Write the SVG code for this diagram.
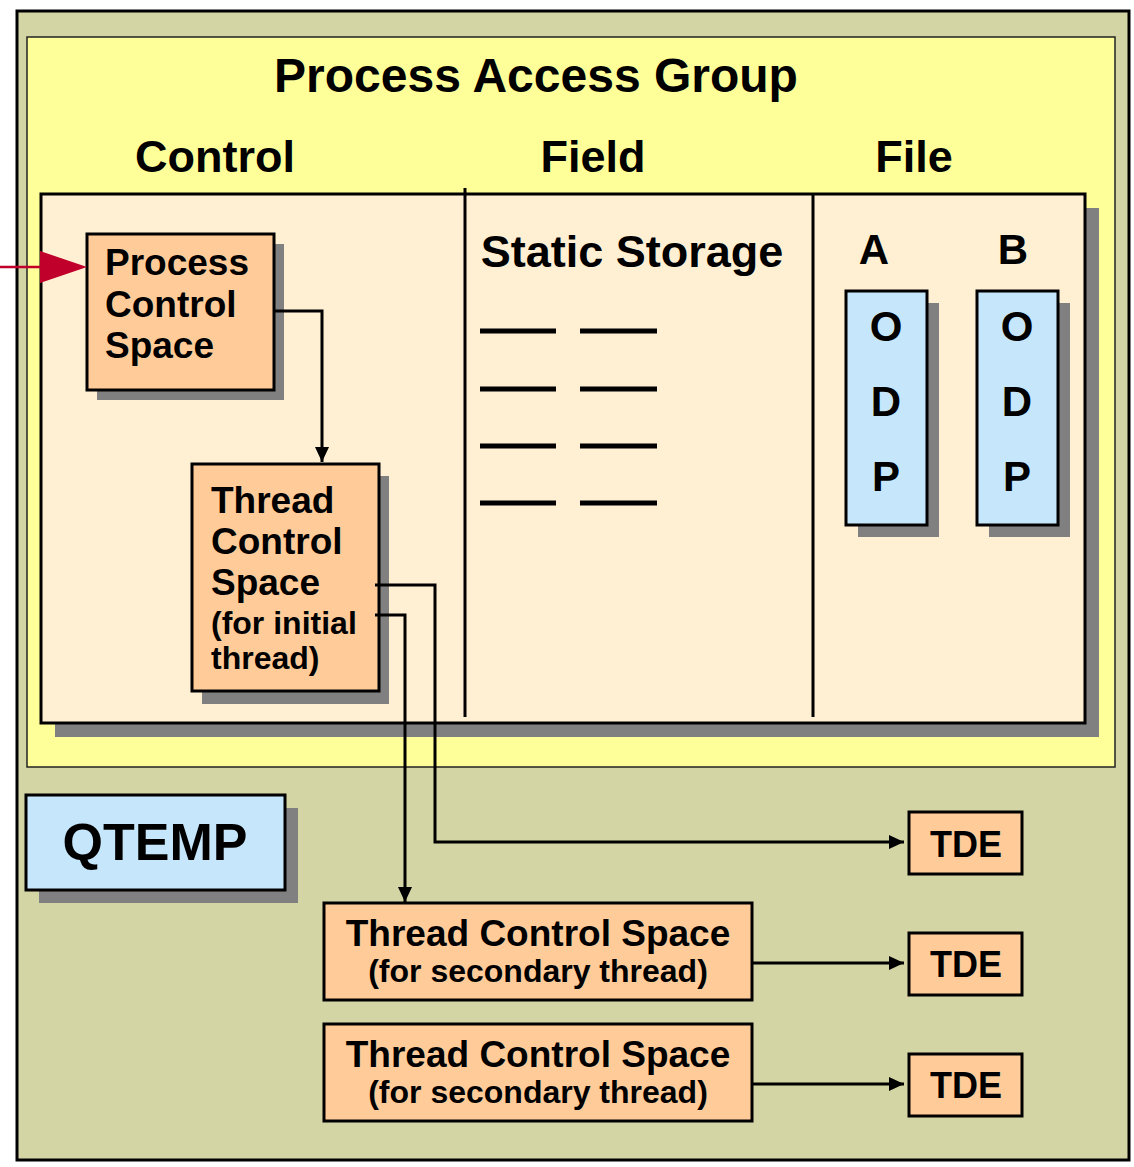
<svg xmlns="http://www.w3.org/2000/svg" width="1134" height="1167" viewBox="0 0 1134 1167">
<style>
text{font-family:"Liberation Sans",Arial,sans-serif;font-weight:bold;fill:#000}
.box{stroke:#000;stroke-width:3}
.sh{fill:#808080}
.or{fill:#FFCC99}
.bl{fill:#C6E7FB}
.conn{fill:none;stroke:#000;stroke-width:3}
.mid{text-anchor:middle}
</style>
<defs>
<marker id="ah" markerUnits="userSpaceOnUse" markerWidth="16" markerHeight="14" refX="15" refY="7" orient="auto">
<path d="M0,0 L15,7 L0,14 z" fill="#000"/>
</marker>
</defs>
<rect width="1134" height="1167" fill="#fff"/>
<g id="outer">
<rect x="17" y="11" width="1112" height="1149" fill="#D4D5A5" stroke="#000" stroke-width="3"/>
</g>
<g id="pag">
<rect x="27" y="37" width="1088" height="730" fill="#FFFF99" stroke="#222" stroke-width="1.5"/>
<text x="536" y="92" class="mid" font-size="48">Process Access Group</text>
<text x="215" y="172" class="mid" font-size="45">Control</text>
<text x="593" y="172" class="mid" font-size="45">Field</text>
<text x="914" y="172" class="mid" font-size="45">File</text>
</g>
<g id="storage">
<rect x="55" y="208" width="1044" height="529" class="sh"/>
<rect x="41" y="194" width="1044" height="529" fill="#FFF0D4" class="box"/>
<line x1="465" y1="188" x2="465" y2="717" stroke="#000" stroke-width="3"/>
<line x1="813" y1="194" x2="813" y2="717" stroke="#000" stroke-width="3"/>
<text x="632" y="267" class="mid" font-size="45">Static Storage</text>
<g stroke="#000" stroke-width="5">
<line x1="480" y1="331" x2="556" y2="331"/><line x1="580" y1="331" x2="657" y2="331"/>
<line x1="480" y1="389" x2="556" y2="389"/><line x1="580" y1="389" x2="657" y2="389"/>
<line x1="480" y1="446" x2="556" y2="446"/><line x1="580" y1="446" x2="657" y2="446"/>
<line x1="480" y1="503" x2="556" y2="503"/><line x1="580" y1="503" x2="657" y2="503"/>
</g>
<text x="874" y="264" class="mid" font-size="42">A</text>
<text x="1013" y="264" class="mid" font-size="42">B</text>
</g>
<g id="odpA">
<rect x="858" y="303" width="81" height="234" class="sh"/>
<rect x="846" y="291" width="81" height="234" class="bl box"/>
<text x="886" y="341" class="mid" font-size="42">O</text>
<text x="886" y="416" class="mid" font-size="42">D</text>
<text x="886" y="491" class="mid" font-size="42">P</text>
</g>
<g id="odpB">
<rect x="989" y="303" width="81" height="234" class="sh"/>
<rect x="977" y="291" width="81" height="234" class="bl box"/>
<text x="1017" y="341" class="mid" font-size="42">O</text>
<text x="1017" y="416" class="mid" font-size="42">D</text>
<text x="1017" y="491" class="mid" font-size="42">P</text>
</g>
<g id="pcs">
<rect x="97" y="244" width="187" height="156" class="sh"/>
<rect x="87" y="234" width="187" height="156" class="or box"/>
<text x="105" y="275" font-size="37">Process</text>
<text x="105" y="317" font-size="37">Control</text>
<text x="105" y="358" font-size="37">Space</text>
</g>
<g id="tcs-initial">
<rect x="202" y="476" width="187" height="228" class="sh"/>
<rect x="192" y="464" width="187" height="227" class="or box"/>
<text x="211" y="513" font-size="37">Thread</text>
<text x="211" y="554" font-size="37">Control</text>
<text x="211" y="595" font-size="37">Space</text>
<text x="211" y="634" font-size="32">(for initial</text>
<text x="211" y="669" font-size="32">thread)</text>
</g>
<g id="qtemp">
<rect x="39" y="808" width="259" height="95" class="sh"/>
<rect x="26" y="795" width="259" height="95" class="bl box"/>
<text x="155" y="860" class="mid" font-size="52">QTEMP</text>
</g>
<g id="tcs-secondary-1">
<rect x="324" y="903" width="428" height="97" class="or box"/>
<text x="538" y="946" class="mid" font-size="37">Thread Control Space</text>
<text x="538" y="982" class="mid" font-size="32">(for secondary thread)</text>
</g>
<g id="tcs-secondary-2">
<rect x="324" y="1024" width="428" height="97" class="or box"/>
<text x="538" y="1067" class="mid" font-size="37">Thread Control Space</text>
<text x="538" y="1103" class="mid" font-size="32">(for secondary thread)</text>
</g>
<g id="tde-1">
<rect x="909" y="812" width="113" height="62" class="or box"/>
<text x="966" y="857" class="mid" font-size="36">TDE</text>
</g>
<g id="tde-2">
<rect x="909" y="933" width="113" height="62" class="or box"/>
<text x="966" y="977" class="mid" font-size="36">TDE</text>
</g>
<g id="tde-3">
<rect x="909" y="1054" width="113" height="62" class="or box"/>
<text x="966" y="1098" class="mid" font-size="36">TDE</text>
</g>
<g id="connectors">
<line x1="0" y1="267" x2="42" y2="267" stroke="#C0002B" stroke-width="2.5"/>
<polygon points="40,251 87,267 40,283" fill="#C0002B"/>
<path d="M274,311 H322 V462" class="conn" marker-end="url(#ah)"/>
<path d="M375,585 H435 V842 H904" class="conn" marker-end="url(#ah)"/>
<path d="M375,615 H405 V902" class="conn" marker-end="url(#ah)"/>
<path d="M752,963 H904" class="conn" marker-end="url(#ah)"/>
<path d="M752,1084 H904" class="conn" marker-end="url(#ah)"/>
</g>
</svg>
